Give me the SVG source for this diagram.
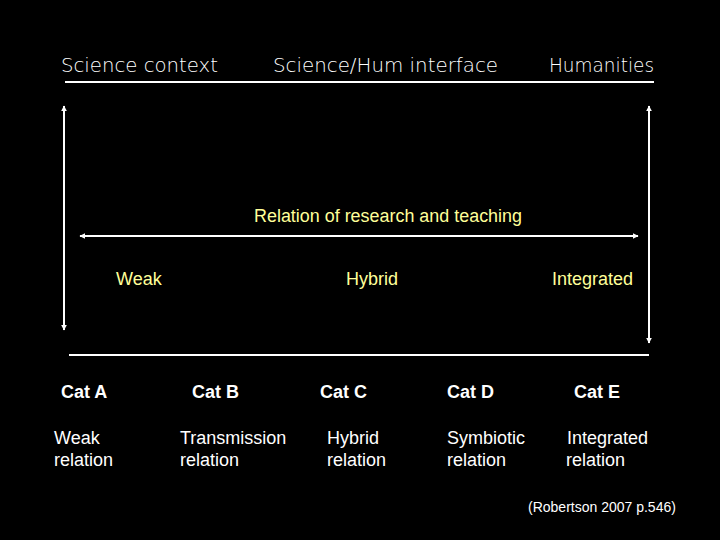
<svg xmlns="http://www.w3.org/2000/svg" width="720" height="540" viewBox="0 0 720 540">
<defs>
<marker id="ah" viewBox="0 0 10 10" refX="9" refY="5" markerWidth="6" markerHeight="6" orient="auto-start-reverse" markerUnits="userSpaceOnUse">
<path d="M0,0 L10,5 L0,10 z" fill="#fff"/>
</marker>
<style>
.top{font-family:"DejaVu Sans","Liberation Sans",sans-serif;font-size:19px;fill:#fff;font-weight:300}
.yel{font-family:"Liberation Sans",Arial,sans-serif;font-size:18px;fill:#ffff99}
.cat{font-family:"Liberation Sans",Arial,sans-serif;font-size:18px;fill:#fff;font-weight:bold}
.rel{font-family:"Liberation Sans",Arial,sans-serif;font-size:18px;fill:#fff}
.cite{font-family:"Liberation Sans",Arial,sans-serif;font-size:14px;fill:#fff}
.ln{stroke:#fff;stroke-width:2;fill:none}
</style>
</defs>
<rect width="720" height="540" fill="#000"/>
<g id="header">
<text class="top" x="61" y="72" textLength="157" lengthAdjust="spacingAndGlyphs">Science context</text>
<text class="top" x="273" y="72" textLength="225" lengthAdjust="spacingAndGlyphs">Science/Hum interface</text>
<text class="top" x="549" y="72" textLength="105" lengthAdjust="spacingAndGlyphs">Humanities</text>
</g>
<g id="connectors">
<line class="ln" x1="65" y1="82" x2="654" y2="82" stroke-width="1.5"/>
<line class="ln" x1="64" y1="106" x2="64" y2="330" marker-start="url(#ah)" marker-end="url(#ah)"/>
<line class="ln" x1="649" y1="106" x2="649" y2="343" marker-start="url(#ah)" marker-end="url(#ah)"/>
<line class="ln" x1="80" y1="236" x2="638" y2="236" marker-start="url(#ah)" marker-end="url(#ah)"/>
<line class="ln" x1="69" y1="355" x2="649" y2="355" stroke-width="1.5"/>
</g>
<g id="relation">
<text class="yel" x="254" y="222" textLength="268" lengthAdjust="spacingAndGlyphs">Relation of research and teaching</text>
<text class="yel" x="116" y="285">Weak</text>
<text class="yel" x="346" y="285">Hybrid</text>
<text class="yel" x="552" y="285">Integrated</text>
</g>
<g id="catA"><text class="cat" x="61" y="398">Cat A</text><text class="rel" x="54" y="444">Weak</text><text class="rel" x="54" y="466">relation</text></g>
<g id="catB"><text class="cat" x="192" y="398">Cat B</text><text class="rel" x="180" y="444">Transmission</text><text class="rel" x="180" y="466">relation</text></g>
<g id="catC"><text class="cat" x="320" y="398">Cat C</text><text class="rel" x="327" y="444">Hybrid</text><text class="rel" x="327" y="466">relation</text></g>
<g id="catD"><text class="cat" x="447" y="398">Cat D</text><text class="rel" x="447" y="444">Symbiotic</text><text class="rel" x="447" y="466">relation</text></g>
<g id="catE"><text class="cat" x="574" y="398">Cat E</text><text class="rel" x="567" y="444">Integrated</text><text class="rel" x="566" y="466">relation</text></g>
<g id="citation"><text class="cite" x="528" y="512">(Robertson 2007 p.546)</text></g>
</svg>
